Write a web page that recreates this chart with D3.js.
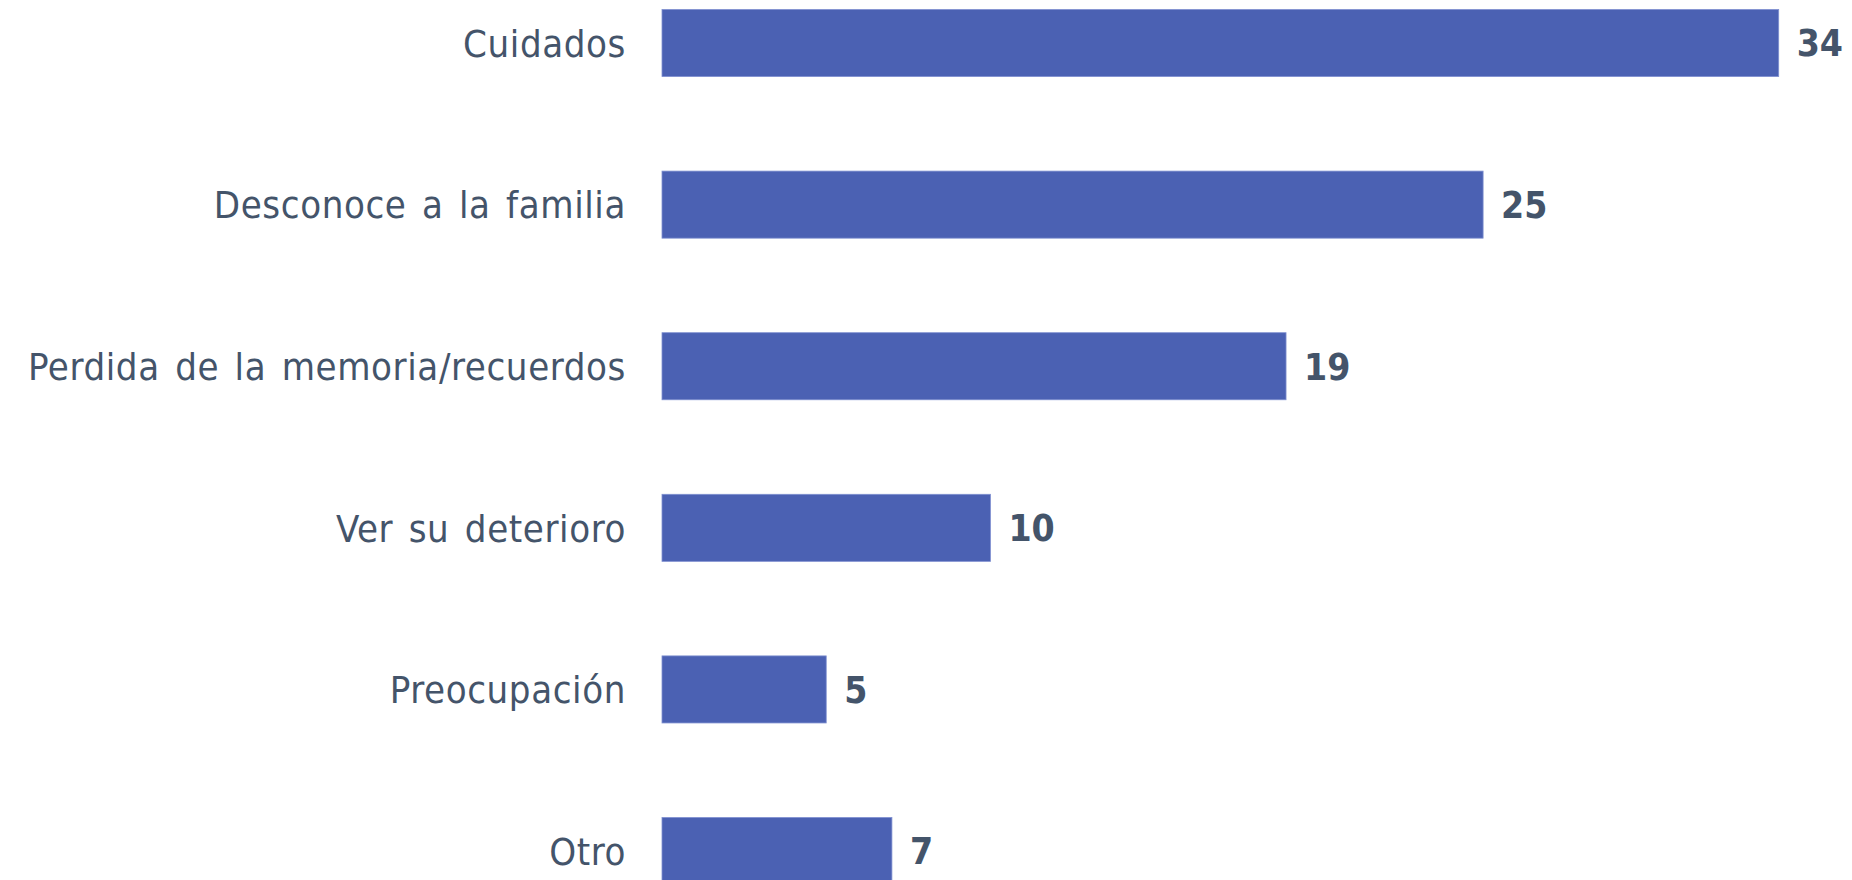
<!DOCTYPE html>
<html>
<head>
<meta charset="utf-8">
<script src="https://cdn.jsdelivr.net/npm/d3@7"></script>
<style>
  html, body { margin: 0; padding: 0; background: #ffffff; overflow: hidden; }
  svg { display: block; }
</style>
</head>
<body>
<svg id="chart" width="1852" height="880"></svg>
<script>
const categories = ["Cuidados", "Desconoce a la familia", "Perdida de la memoria/recuerdos", "Ver su deterioro", "Preocupación", "Otro"];
const values = [34, 25, 19, 10, 5, 7];

const W = 1852, H = 880;
const barLeft = 662;
const barColor = "#4B61B3";
const textColor = "#44546A";

const svg = d3.select("#chart");

const x = d3.scaleLinear().domain([0, 34]).range([barLeft, 1778.7]);
const step = 161.6;
const y = d3.scaleBand()
  .domain(categories)
  .range([9.5, 9.5 + step * (categories.length - 0.585)])
  .paddingInner(0.585)
  .paddingOuter(0);

const data = categories.map((c, i) => ({ c, v: values[i] }));

svg.selectAll("rect.bar")
  .data(data)
  .enter().append("rect")
  .attr("class", "bar")
  .attr("x", x(0))
  .attr("y", d => y(d.c))
  .attr("width", d => x(d.v) - x(0))
  .attr("height", y.bandwidth())
  .attr("fill", barColor)
  .attr("stroke", "#7f90d0")
  .attr("stroke-width", 0.8);

// category labels via axis
const axis = d3.axisLeft(y).tickSize(0).tickPadding(0);
const g = svg.append("g").attr("transform", "translate(626,0)").call(axis);
g.select(".domain").remove();
g.selectAll("text")
  .attr("fill", textColor)
  .attr("font-family", "'DejaVu Sans Condensed', 'DejaVu Sans', sans-serif")
  .attr("font-size", 38)
  .attr("letter-spacing", 0.6)
  .attr("word-spacing", 4)
  .attr("dy", "0.36em")
  .attr("text-anchor", "end");

svg.selectAll("text.val")
  .data(data)
  .enter().append("text")
  .attr("class", "val")
  .attr("x", d => x(d.v) + 18)
  .attr("y", d => y(d.c) + y.bandwidth() / 2)
  .attr("dy", "0.36em")
  .attr("fill", textColor)
  .attr("font-family", "'DejaVu Sans Condensed', 'DejaVu Sans', sans-serif")
  .attr("font-weight", "bold")
  .attr("font-size", 37)
  .text(d => d.v);
</script>
</body>
</html>
